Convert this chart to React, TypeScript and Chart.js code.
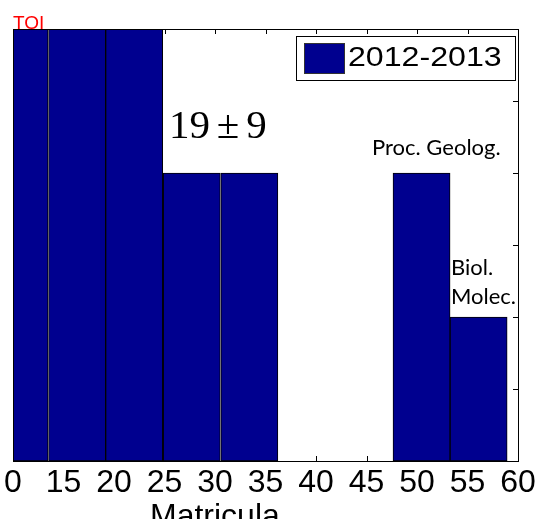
import React, { useEffect, useRef } from 'react';
import { Chart, registerables } from 'chart.js';

Chart.register(...registerables);

// ---- data ----
const xTickLabels = ['0', '15', '20', '25', '30', '35', '40', '45', '50', '55', '60'];
const xTickValues = [0, 1, 2, 3, 4, 5, 6, 7, 8, 9, 10];
const yTickValues = [0, 1, 2, 3, 4, 5, 6];
const binCenters = [0.13, 1.27, 2.40, 3.54, 4.68, 5.81, 6.95, 8.09, 9.22];
const counts = [8, 7, 9, 4, 4, 0, 0, 4, 2];
const seriesLabel = '2012-2013';
const cornerTag = 'TOI';
const statText = '19\u2006±\u20069';
const noteProc = 'Proc. Geolog.';
const noteBiol = ['Biol.', 'Molec.'];
const xTitle = 'Matricula';

const SANS = '"Liberation Sans", Arial, sans-serif';
const SERIF = '"Liberation Serif", "Times New Roman", serif';
const CALIBRI_LIKE = 'Lato, "Open Sans", sans-serif';

const framePlugin = {
  id: 'matlabFrame',
  beforeDatasetsDraw(chart: any) {
    const { ctx, chartArea: a, scales } = chart;
    const x = scales.x;
    const y = scales.y;
    const tl = 5;
    ctx.save();
    ctx.strokeStyle = '#000';
    ctx.lineWidth = 1;
    ctx.beginPath();
    xTickValues.forEach((v) => {
      const px = Math.round(x.getPixelForValue(v)) + 0.5;
      ctx.moveTo(px, a.top);
      ctx.lineTo(px, a.top + tl);
      ctx.moveTo(px, a.bottom);
      ctx.lineTo(px, a.bottom - tl);
    });
    yTickValues.forEach((v) => {
      const py = Math.round(y.getPixelForValue(v)) + 0.5;
      ctx.moveTo(a.left, py);
      ctx.lineTo(a.left + tl, py);
      ctx.moveTo(a.right, py);
      ctx.lineTo(a.right - tl, py);
    });
    ctx.stroke();
    ctx.restore();
  },
  afterDatasetsDraw(chart: any) {
    const { ctx, chartArea: a } = chart;
    ctx.save();
    ctx.strokeStyle = '#000';
    ctx.lineWidth = 1;
    ctx.strokeRect(a.left + 0.5, a.top + 0.5, a.right - a.left, a.bottom - a.top);
    ctx.restore();
  },
  afterDraw(chart: any) {
    const { ctx, chartArea: a } = chart;
    const ds = chart.data.datasets[0];
    ctx.save();

    // legend
    const lx = a.right - 222;
    const ly = a.top + 7;
    const lw = 219;
    const lh = 44;
    ctx.fillStyle = '#fff';
    ctx.fillRect(lx, ly, lw, lh);
    ctx.strokeStyle = '#000';
    ctx.lineWidth = 1;
    ctx.strokeRect(lx + 0.5, ly + 0.5, lw, lh);
    ctx.fillStyle = ds.backgroundColor;
    ctx.fillRect(lx + 8, ly + 7, 40, 30);
    ctx.strokeStyle = '#333';
    ctx.strokeRect(lx + 8.5, ly + 7.5, 40, 30);
    ctx.fillStyle = '#000';
    ctx.font = `27px ${SANS}`;
    ctx.textBaseline = 'alphabetic';
    ctx.textAlign = 'left';
    ctx.save();
    ctx.translate(lx + 52, ly + 30);
    ctx.scale(1.19, 1);
    ctx.fillText(ds.label, 0, 0);
    ctx.restore();

    // corner tag
    ctx.fillStyle = '#ff0000';
    ctx.font = `19px ${SANS}`;
    ctx.fillText(cornerTag, a.left, a.top);

    // stat text
    ctx.fillStyle = '#000';
    ctx.font = `41px ${SERIF}`;
    ctx.fillText(statText, 169, 138);

    // notes
    ctx.font = `22px ${CALIBRI_LIKE}`;
    ctx.fillText(noteProc, 372, 155);
    ctx.fillText(noteBiol[0], 451, 275);
    ctx.fillText(noteBiol[1], 451, 304);

    // x title
    ctx.font = `32px ${SANS}`;
    ctx.fillText(xTitle, 150, 526);

    ctx.restore();
  },
};

export default function App() {
  const ref = useRef<HTMLCanvasElement>(null);
  useEffect(() => {
    const chart = new Chart(ref.current as HTMLCanvasElement, {
      type: 'bar',
      data: {
        datasets: [
          {
            label: seriesLabel,
            data: binCenters.map((c, i) => ({ x: c, y: counts[i] })),
            xAxisID: 'xb',
            yAxisID: 'y',
            backgroundColor: '#00008F',
            borderColor: '#000',
            borderWidth: 1,
            borderSkipped: false,
            barPercentage: 1,
            categoryPercentage: 1,
            clip: 0,
          } as any,
        ],
      },
      options: {
        responsive: false,
        animation: false,
        layout: { padding: { left: 13, top: 29, right: 20, bottom: 0 } },
        plugins: { legend: { display: false }, tooltip: { enabled: false } },
        scales: {
          x: {
            type: 'linear',
            position: 'bottom',
            min: 0,
            max: 10,
            offset: false,
            grid: { display: false },
            border: { display: false },
            ticks: {
              stepSize: 1,
              autoSkip: false,
              maxRotation: 0,
              minRotation: 0,
              padding: -5,
              color: '#000',
              font: { family: SANS, size: 32 },
              callback: (v: any) => xTickLabels[Math.round(Number(v))] ?? '',
            },
            afterFit: (s: any) => {
              s.height = 58;
            },
          },
          xb: {
            type: 'linear',
            display: false,
            position: 'bottom',
            min: 0,
            max: 10,
            offset: false,
            ticks: { stepSize: 100 },
          },
          y: {
            type: 'linear',
            display: false,
            min: 0,
            max: 6,
            ticks: { stepSize: 1 },
          },
        } as any,
      },
      plugins: [framePlugin],
    });
    return () => chart.destroy();
  }, []);
  return (
    <canvas
      ref={ref}
      width={538}
      height={519}
      style={{ position: 'absolute', left: 0, top: 0, display: 'block' }}
    />
  );
}
